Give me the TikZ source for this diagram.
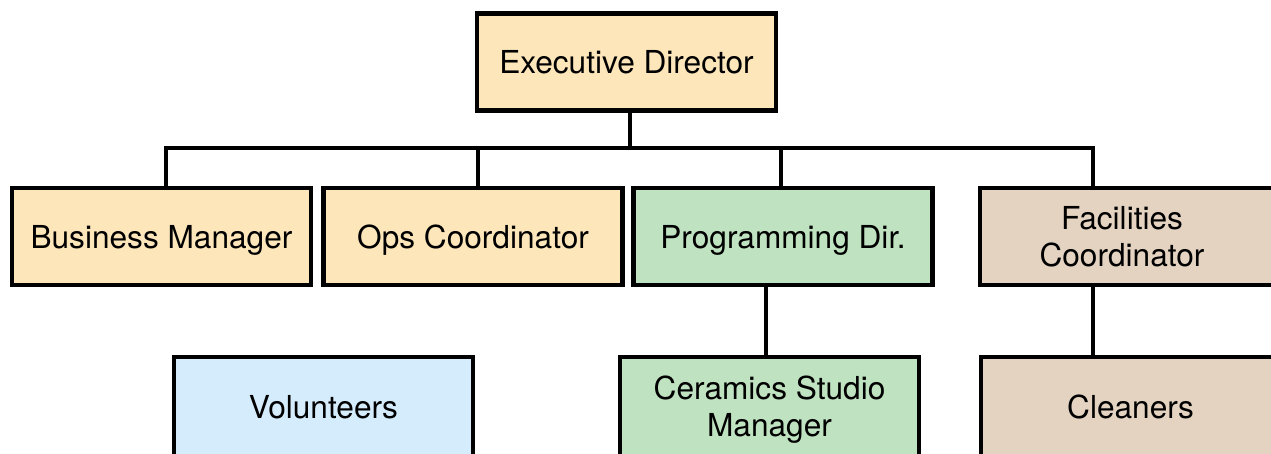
\documentclass[tikz,border=0pt]{standalone}
\usepackage{fontspec}
\setmainfont{TeX Gyre Heros}
\definecolor{orgfill}{HTML}{FDE6BA}
\definecolor{grnfill}{HTML}{BFE2C0}
\definecolor{tanfill}{HTML}{E3D3C0}
\definecolor{blufill}{HTML}{D5ECFC}
\tikzset{
  box/.style={draw, line width=0.085cm, inner sep=0pt, minimum width=5.98cm,
    minimum height=1.94cm, align=center, text depth=0pt,
    font=\fontsize{18}{21}\selectfont},
  link/.style={line width=0.08cm}
}
\begin{document}
\begin{tikzpicture}[x=0.02cm, y=-0.02cm]
      \useasboundingbox (0,0) rectangle (1271,453);
      \clip (0,0) rectangle (1271,453);
      %
      \node[box, fill=orgfill] (ed) at (626.5,62) {Executive Director}; % top
      %
      \node[box, fill=orgfill] (bm)   at (161.5,236.5) {Business Manager}; % second row
      \node[box, fill=orgfill] (ops)  at (473,236.5)   {Ops Coordinator};
      \node[box, fill=grnfill] (prog) at (783,236.5)   {Programming Dir.};
      \node[box, fill=tanfill, label={[xshift=-0.15cm, align=center,
        font=\fontsize{18}{21}\selectfont]center:Facilities\\Coordinator}]
        (fac) at (1129.5,236.5) {};
      %
      \node[box, fill=blufill, minimum height=1.98cm] (vol) at (323.5,406.5)  {Volunteers}; % third row
      \node[box, fill=grnfill, minimum height=1.98cm] (cer) at (769.5,406.5)  {Ceramics Studio\\Manager};
      \node[box, fill=tanfill, minimum height=1.98cm] (cln) at (1130.5,406.5) {Cleaners};
      %
      \coordinate (d1) at (166,148);  % drops on the bus
      \coordinate (d2) at (478,148);
      \coordinate (d3) at (781,148);
      \coordinate (d4) at (1093,148);
      %
      \draw[link] ([xshift=0.07cm]ed.south) -- ([xshift=0.07cm]ed.south |- d1);
      \draw[link] (d1 |- bm.north) -- (d1) -- (d4) -- (d4 |- fac.north); % bus
      \foreach \d/\n in {d2/ops, d3/prog}
        \draw[link] (\d) -- (\d |- \n.north);
      %
      \draw[link] ([xshift=-0.07cm]cer.north |- prog.south) -- ([xshift=-0.07cm]cer.north);
      \draw[link] (d4 |- fac.south) -- (d4 |- cln.north);
      %
    \end{tikzpicture}
\end{document}
